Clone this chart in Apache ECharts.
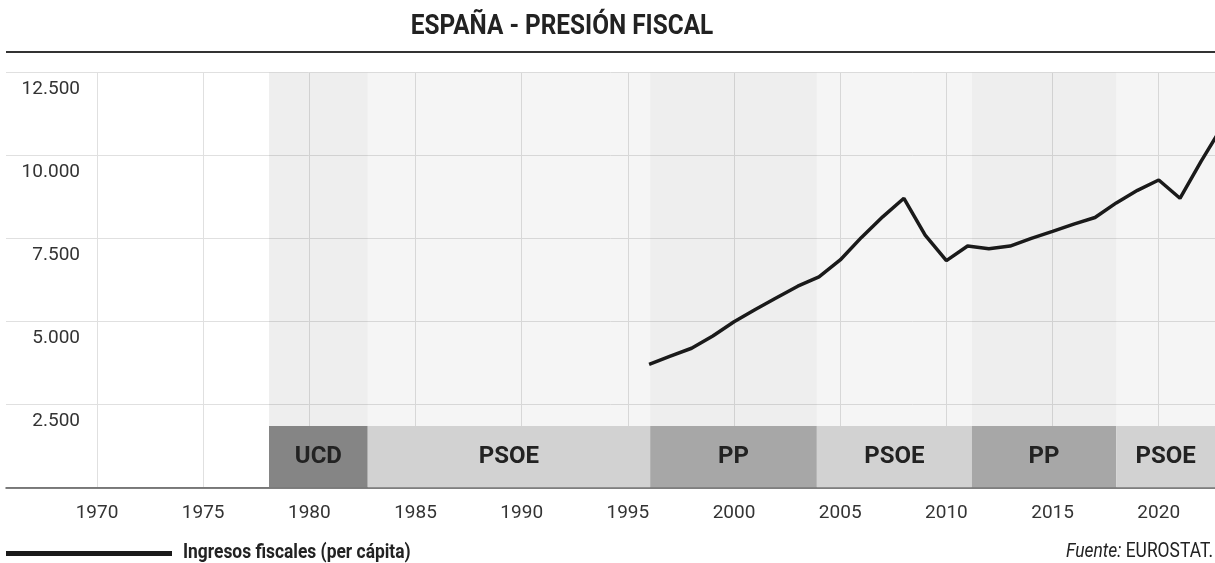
<!DOCTYPE html>
<html>
<head>
<meta charset="utf-8">
<script src="https://cdn.jsdelivr.net/npm/echarts@6/dist/echarts.min.js"></script>
<style>
html,body{margin:0;padding:0;background:#ffffff;}
#chart{width:1215px;height:563px;}
</style>
</head>
<body>
<div id="chart"></div>
<script>
// ---- Data ----
const years = [1996,1997,1998,1999,2000,2001,2002,2003,2004,2005,2006,2007,2008,2009,2010,2011,2012,2013,2014,2015,2016,2017,2018,2019,2020,2021,2022,2023];
const ingresos = [3705,3950,4190,4560,4990,5360,5710,6060,6340,6850,7530,8150,8710,7600,6830,7270,7190,7270,7500,7710,7930,8130,8570,8950,9260,8710,9830,10880];
const xTickYears = [1970,1975,1980,1985,1990,1995,2000,2005,2010,2015,2020];
const yTickValues = [0,2500,5000,7500,10000,12500];
const govParty = ['UCD','PSOE','PP','PSOE','PP','PSOE'];
const govStart = [1978.1,1982.75,1996.05,2003.9,2011.2,2018.0];
const govEnd   = [1982.75,1996.05,2003.9,2011.2,2018.0,2022.65];
const seriesName = 'Ingresos fiscales (per cápita)';
const titleText = 'ESPAÑA - PRESIÓN FISCAL';
const sourceText = 'EUROSTAT.';

// ---- Layout / style ----
const FONT = '"Roboto", "Noto Sans", sans-serif';
const X_MIN = 1965.714, X_MAX = 2022.65;
const BAND_TOP = 1850;
const LINE_COLOR = '#1a1a1a';
const bandColor = {UCD:'#858585', PSOE:'#d2d2d2', PP:'#a7a7a7'};
const shadeColor = {UCD:'rgba(0,0,0,0.065)', PSOE:'rgba(0,0,0,0.04)', PP:'rgba(0,0,0,0.065)'};

const fmt = v => String(v).replace(/\B(?=(\d{3})+(?!\d))/g, '.');

const areas = [];
govParty.forEach((p, i) => {
  areas.push([
    {xAxis: govStart[i], yAxis: BAND_TOP, itemStyle: {color: shadeColor[p]}, label: {show: false}},
    {xAxis: govEnd[i], yAxis: yTickValues[yTickValues.length - 1]}
  ]);
});
govParty.forEach((p, i) => {
  areas.push([
    {name: p, xAxis: govStart[i], yAxis: 0, itemStyle: {color: bandColor[p]}},
    {xAxis: govEnd[i], yAxis: BAND_TOP}
  ]);
});

const chart = echarts.init(document.getElementById('chart'), null, {renderer: 'canvas'});
chart.setOption({
  animation: false,
  backgroundColor: '#ffffff',
  grid: {left: 6, right: 0, top: 72.5, bottom: 75.7, containLabel: false},
  xAxis: {
    type: 'value', min: X_MIN, max: X_MAX,
    axisLine: {show: true, lineStyle: {color: '#555', width: 1.5}},
    axisTick: {show: false, customValues: xTickYears},
    axisLabel: {customValues: xTickYears, margin: 16, color: '#333', fontFamily: FONT, fontSize: 19,
      formatter: v => String(Math.round(v))},
    splitLine: {show: true, lineStyle: {color: '#e0e0e0', width: 1}}
  },
  yAxis: {
    type: 'value', min: 0, max: 12500, interval: 2500,
    axisLine: {show: false}, axisTick: {show: false},
    axisLabel: {inside: true, margin: 74, align: 'right', verticalAlign: 'top', padding: [7,0,0,0],
      color: '#333', fontFamily: FONT, fontSize: 19,
      formatter: v => v === 0 ? '' : fmt(v)},
    splitLine: {show: true, lineStyle: {color: '#e0e0e0', width: 1}}
  },
  graphic: [
    {type: 'text', x: 562, y: 26.5, scaleX: 0.87, style: {text: titleText, fontFamily: FONT, fontWeight: 'bold', fontSize: 28,
      fill: '#222', align: 'center', verticalAlign: 'middle'}},
    {type: 'line', shape: {x1: 6, y1: 52, x2: 1215, y2: 52}, style: {stroke: '#333', lineWidth: 2}},
    {type: 'rect', shape: {x: 6, y: 551, width: 166, height: 5}, style: {fill: LINE_COLOR}},
    {type: 'text', x: 183, y: 553, scaleX: 0.87, style: {text: seriesName, fontFamily: FONT, fontWeight: 'bold', fontSize: 20,
      fill: '#222', align: 'left', verticalAlign: 'middle'}},
    {type: 'text', x: 1213, y: 552, scaleX: 0.87, style: {text: '{i|Fuente:} ' + sourceText, fontFamily: FONT, fontSize: 20,
      fill: '#222', align: 'right', verticalAlign: 'middle',
      rich: {i: {fontStyle: 'italic', fontFamily: FONT, fontSize: 20, fill: '#222'}}}}
  ],
  series: [{
    name: seriesName, type: 'line', data: years.map((y, i) => [y, ingresos[i]]),
    showSymbol: false, symbol: 'none', clip: true,
    lineStyle: {color: LINE_COLOR, width: 3.5}, itemStyle: {color: LINE_COLOR},
    z: 5,
    markArea: {
      silent: true,
      label: {show: true, position: 'inside', fontFamily: FONT, fontWeight: 'bold', fontSize: 24, color: '#222'},
      data: areas
    }
  }]
});
</script>
</body>
</html>
